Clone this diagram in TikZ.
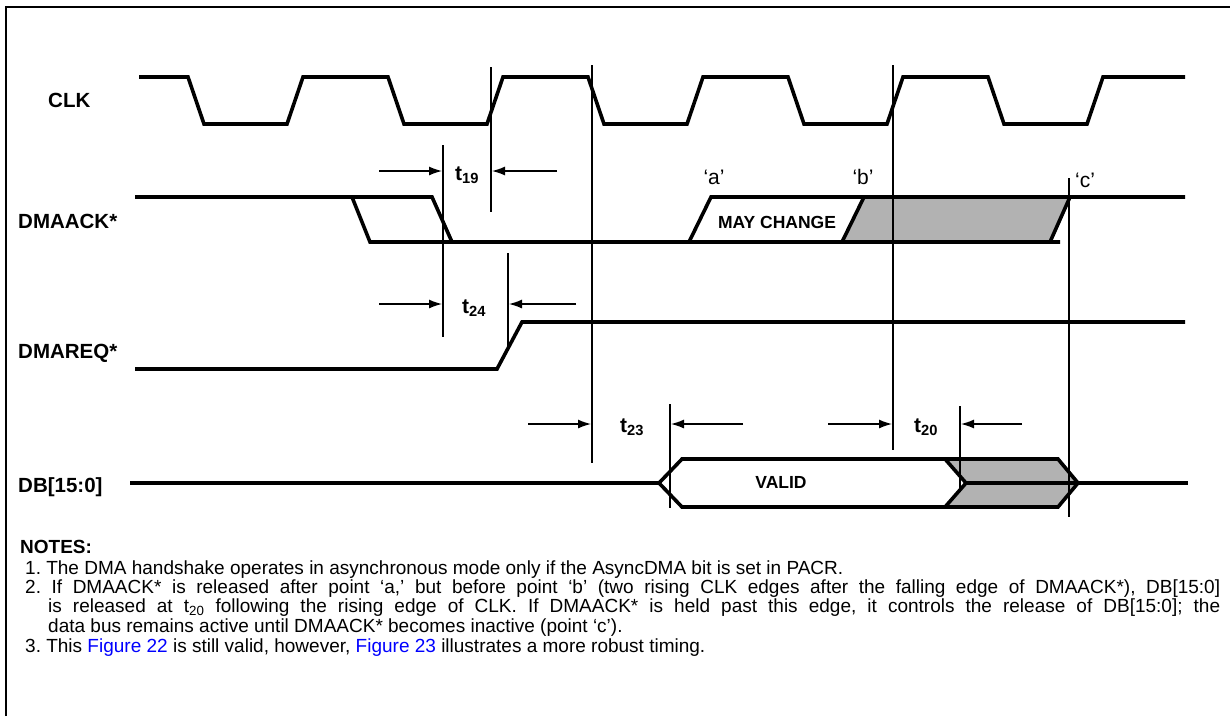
\documentclass[tikz,border=0pt]{standalone}
\usepackage{fontspec}
\setmainfont{Liberation Sans}
\usetikzlibrary{arrows.meta}
\definecolor{gray1}{rgb}{0.7,0.7,0.7}
\definecolor{linkblue}{rgb}{0,0,1}

\tikzset{
  sig/.style={line width=3.6pt},
  guide/.style={line width=1.3pt},
  meas/.style={line width=1.3pt,-{Latex[length=13pt,width=9pt]}},
  siglabel/.style={anchor=base west,font=\fontsize{20.5}{23}\selectfont\bfseries,inner sep=0pt},
  tlabel/.style={font=\fontsize{21}{23}\selectfont\bfseries,inner sep=0pt},
  boxlabel/.style={font=\fontsize{17.5}{20}\selectfont\bfseries,inner sep=0pt},
  ptlabel/.style={font=\fontsize{21}{23}\selectfont,inner sep=0pt},
  notetext/.style={anchor=base west,font=\fontsize{19}{21}\selectfont\frenchspacing,inner sep=0pt}
}

\begin{document}
\begin{tikzpicture}[x=1pt,y=-1pt,>=Latex]
    \useasboundingbox (0,0) rectangle (1230,716);
    \draw[line width=1.6pt] (6,716) -- (6,7) -- (1230,7);

    % signal names
    \node[siglabel] (clk) at (48,107) {CLK};
    \node[siglabel] (dmaack) at (18,228) {DMAACK*};
    \node[siglabel] (dmareq) at (18,358) {DMAREQ*};
    \node[siglabel] (db) at (18,492) {DB[15:0]};

    % CLK
    \draw[sig] (139,77) \foreach \k in {0,...,4}{
      -- (188+200*\k,77) -- (204+200*\k,124) -- (287+200*\k,124) -- (303+200*\k,77) } -- (1185,77);

    % DMAACK*
    \path[fill=gray1] (842,242) -- (864,197) -- (1070,197) -- (1050,242) -- cycle;
    \draw[sig] (135,197) -- (432,197) -- (452,242);
    \draw[sig] (352,197) -- (370,242) -- (1060,242);
    \draw[sig] (689,242) -- (711,197) -- (1185,197);
    \draw[sig] (842,242) -- (864,197);
    \draw[sig] (1050,242) -- (1070,197);
    \node[boxlabel] (maychange) at (777,222) {MAY CHANGE};
    \node[ptlabel] (pa) at (714,177) {‘a’};
    \node[ptlabel] (pb) at (863,177) {‘b’};
    \node[ptlabel] (pc) at (1085,180) {‘c’};

    % DMAREQ*
    \draw[sig] (135,369) -- (497,369) -- (522,322) -- (1185,322);

    % DB[15:0]
    \path[fill=gray1] (945,459) -- (1058,459) -- (1078,483) -- (1058,507) -- (945,507) -- (966,483) -- cycle;
    \draw[sig] (130,483) -- (659,483);
    \draw[sig,fill=white] (659,483) -- (682,459) -- (945,459) -- (966,483) -- (945,507) -- (682,507) -- cycle;
    \draw[sig] (945,459) -- (1058,459) -- (1078,483) -- (1058,507) -- (945,507);
    \draw[sig] (966,483) -- (1188,483);
    \node[boxlabel] (valid) at (781,482) {VALID};

    % reference lines
    \draw[guide] (443,145) -- (443,337);
    \draw[guide] (491,67) -- (491,212);
    \draw[guide] (592,65) -- (592,463);
    \draw[guide] (893,65) -- (893,450);
    \draw[guide] (1069,178) -- (1069,517);
    \draw[guide] (508,253) -- (508,348);
    \draw[guide] (670,404) -- (670,508);
    \draw[guide] (960,406) -- (960,490);

    % timing parameters
    \draw[meas] (379,171) -- (442,171);
    \draw[meas] (557,171) -- (492,171);
    \node[tlabel] (t19) at (467,175) {t\textsubscript{19}};
    \draw[meas] (379,304) -- (442,304);
    \draw[meas] (576,304) -- (509,304);
    \node[tlabel] (t24) at (474,308) {t\textsubscript{24}};
    \draw[meas] (528,424) -- (591,424);
    \draw[meas] (743,424) -- (671,424);
    \node[tlabel] (t23) at (632,427) {t\textsubscript{23}};
    \draw[meas] (828,424) -- (892,424);
    \draw[meas] (1022,424) -- (961,424);
    \node[tlabel] (t20) at (926,427) {t\textsubscript{20}};

    % notes
    \node[notetext,font=\fontsize{19}{21}\selectfont\bfseries] (notes) at (20,553) {NOTES:};
    \node[notetext] (n1) at (25,574) {1. The DMA handshake operates in asynchronous mode only if the AsyncDMA bit is set in PACR.};
    \node[notetext] (n2) at (25,593) {\makebox[1195pt][s]{2. If DMAACK* is released after point ‘a,’ but before point ‘b’ (two rising CLK edges after the falling edge of DMAACK*), DB[15:0]}};
    \node[notetext] (n2b) at (48,612) {\makebox[1172pt][s]{is released at t\textsubscript{20} following the rising edge of CLK. If DMAACK* is held past this edge, it controls the release of DB[15:0]; the}};
    \node[notetext] (n2c) at (48,632) {data bus remains active until DMAACK* becomes inactive (point ‘c’).};
    \node[notetext] (n3) at (25,652) {3. This \textcolor{linkblue}{Figure 22} is still valid, however, \textcolor{linkblue}{Figure 23} illustrates a more robust timing.};

  \end{tikzpicture}
\end{document}
